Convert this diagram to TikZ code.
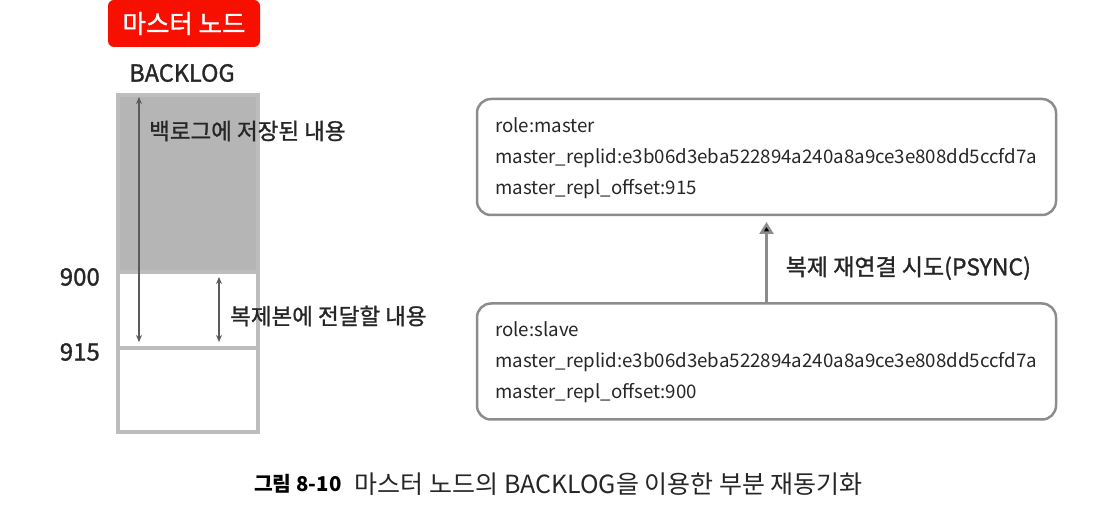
\documentclass[tikz,border=0pt]{standalone}
\usepackage{fontspec}
\setmainfont{Noto Sans CJK KR}
\newfontfamily\medfont{Noto Sans CJK KR}[FakeBold=1.2]
\usetikzlibrary{arrows.meta,positioning}
\definecolor{badgered}{HTML}{F70F00}
\definecolor{cellgray}{HTML}{BDBDBD}
\definecolor{fillgray}{HTML}{B5B5B5}
\definecolor{arrowgray}{HTML}{5A5A5A}
\definecolor{boxgray}{HTML}{8C8C8C}
\definecolor{textgray}{HTML}{262626}

\begin{document}
\begin{tikzpicture}
	[x=1pt,y=-1pt,
		cell/.style={draw=cellgray,line width=4pt,minimum width=140pt,outer sep=0pt,inner sep=0pt},
		dim arrow/.style={{Stealth[length=7pt,width=6pt]}-{Stealth[length=7pt,width=6pt]},draw=arrowgray,line width=1.4pt},
		label/.style={inner sep=0pt,text=textgray,font=\medfont\fontsize{22.5}{22.5}\selectfont},
		info box/.style={draw=boxgray,line width=2.5pt,rounded corners=14pt,minimum width=579pt,minimum height=116pt,outer sep=0pt},
		box text/.style={inner sep=0pt,anchor=west,align=left,text=textgray,font=\fontsize{18.7}{31}\selectfont}]

	\useasboundingbox (0,0) rectangle (1104,510);

	% master node backlog
	\node[fill=badgered,rounded corners=6pt,minimum width=152pt,minimum height=47pt,text=white,
		font=\medfont\fontsize{25.5}{25.5}\selectfont] (badge) at (184,23.5) {마스터 노드};
	\node[label,font=\medfont\fontsize{23.5}{23.5}\selectfont] (backlog) at (182,73) {BACKLOG};

	\node[cell,fill=fillgray,minimum height=177pt] (stored) at (188,183.5) {};
	\node[cell,minimum height=76pt,below=0pt of stored] (sent) {};
	\node[cell,minimum height=84pt,below=0pt of sent] (free) {};

	\coordinate (stored top) at (139,97);
	\coordinate (stored bot) at (139,342);
	\coordinate (sent top) at (219,277);
	\coordinate (sent bot) at (219,342);
	\draw[dim arrow] (stored top) -- (stored bot);
	\draw[dim arrow] (sent top) -- (sent bot);

	\node[label,anchor=west] (stored label) at (149,131) {백로그에 저장된 내용};
	\node[label,anchor=west] (sent label) at (230,316) {복제본에 전달할 내용};
	\node[label,anchor=east,font=\medfont\fontsize{24}{24}\selectfont] (off900) at (100,277) {900};
	\node[label,anchor=east,font=\medfont\fontsize{24}{24}\selectfont] (off915) at (100,352) {915};

	% replication info
	\node[info box] (master) at (766.5,157) {};
	\node[box text] (master text) at ([xshift=18pt,yshift=-1pt]master.west)
		{role:master\\master\_replid:e3b06d3eba522894a240a8a9ce3e808dd5ccfd7a\\master\_repl\_offset:915};
	\node[info box] (slave) at (766.5,361.5) {};
	\node[box text] (slave text) at ([xshift=18pt,yshift=-1pt]slave.west)
		{role:slave\\master\_replid:e3b06d3eba522894a240a8a9ce3e808dd5ccfd7a\\master\_repl\_offset:900};

	\path[-{Triangle[length=12pt,width=14pt]},draw=boxgray,line width=2.5pt,shorten >=7pt]
	(slave) edge node[label,pos=0.4,right=18pt,font=\medfont\fontsize{23}{23}\selectfont] {복제 재연결 시도(PSYNC)} (master);

	% caption
	\node[inner sep=0pt,anchor=west,font=\fontsize{20.4}{20.4}\selectfont\bfseries] (fig no) at (254,484) {그림 8-10};
	\node[inner sep=0pt,right=13pt of fig no,text=textgray,font=\fontsize{25}{25}\selectfont] (caption) {마스터 노드의 BACKLOG을 이용한 부분 재동기화};

\end{tikzpicture}
\end{document}
